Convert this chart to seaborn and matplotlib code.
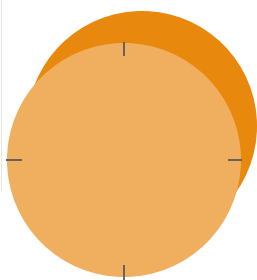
import numpy as np
import seaborn as sns
import matplotlib.pyplot as plt
from matplotlib.patches import Circle

# two overlapping circles (centre x, centre y, radius) in pixel-like units
names = ["back", "front"]
cx = [142, 124]
cy = [126, 160]
radius = [115, 117]
colors = ["#E8890D", "#EFAF5F"]

# tick marks on the front circle: (angle in degrees, inner, outer offset)
tick_angles = [90, 180, 0, 270]
tick_len = [13, 15, 13, 15]

sns.set_style("white")
fig = plt.figure(figsize=(2.57, 2.80), dpi=100)
ax = fig.add_axes([0, 0, 1, 1])

for i in range(len(names)):
    ax.add_patch(Circle((cx[i], cy[i]), radius[i], color=colors[i], lw=0, zorder=i + 1))

# ticks pointing inward from the front circle edge
fx, fy, fr = cx[1], cy[1], radius[1]
for ang, ln in zip(tick_angles, tick_len):
    a = np.deg2rad(ang)
    dx, dy = np.cos(a), -np.sin(a)
    r0 = fr - ln if ang != 270 else fr - 12
    r1 = fr + 1 if ang != 270 else fr + 4
    ax.plot([fx + dx * r0, fx + dx * r1], [fy + dy * r0, fy + dy * r1],
            color="#5a5a5a", lw=1.3, zorder=5, solid_capstyle="butt")

ax.plot([1, 1], [0, 190], color="#e6e6e6", lw=0.8, zorder=0)

ax.set_xlim(0, 257)
ax.set_ylim(280, 0)
ax.set_aspect("auto")
ax.axis("off")
fig.savefig("out.png", dpi=100, facecolor="white")
